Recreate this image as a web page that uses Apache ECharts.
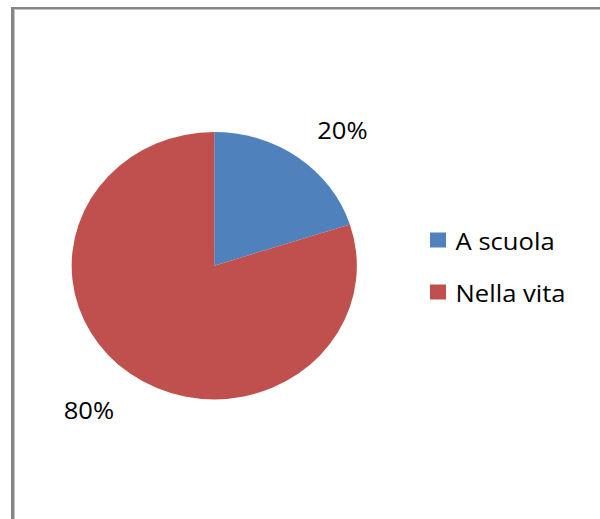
<!DOCTYPE html>
<html>
<head>
<meta charset="utf-8">
<script src="https://cdn.jsdelivr.net/npm/echarts@6/dist/echarts.min.js"></script>
<style>
  html, body { margin: 0; padding: 0; width: 600px; height: 519px; overflow: hidden; background: #fff; }
  #frame { position: absolute; left: 11px; top: 7px; width: 620px; height: 540px;
           border-left: 3px solid #868686; border-top: 2px solid #868686;
           box-shadow: inset 1px 1px 0 0 #c4c4c4; }
  #chart { position: absolute; left: 0; top: 0; width: 562.6px; height: 519px;
           transform: scaleX(1.0665); transform-origin: 0 0; }
</style>
</head>
<body>
<div id="frame"></div>
<div id="chart"></div>
<script>
const categories = ['A scuola', 'Nella vita'];
const values = [20, 80];
const colors = ['#4F81BD', '#C0504D'];
const labelLineLengths = [[34.5, -2.3], [44.2, -10.6]];

const chart = echarts.init(document.getElementById('chart'), null, { renderer: 'svg' });
const font = "'Open Sans', sans-serif";

const data = categories.map((name, i) => ({
  name: name,
  value: values[i],
  itemStyle: { color: colors[i] },
  labelLine: { show: false, length: labelLineLengths[i][0], length2: labelLineLengths[i][1] }
}));

chart.setOption({
  animation: false,
  legend: {
    orient: 'vertical',
    left: 403.2,
    top: 228,
    padding: 0,
    itemWidth: 15,
    itemHeight: 15,
    itemGap: 28,
    icon: 'rect',
    selectedMode: false,
    data: categories,
    textStyle: { fontFamily: font, fontSize: 24, color: '#000', lineHeight: 24, padding: [0, 0, 0, 4] }
  },
  series: [{
    type: 'pie',
    center: [200.9, 265.7],
    radius: 133.7,
    startAngle: 90,
    clockwise: true,
    avoidLabelOverlap: false,
    silent: true,
    itemStyle: { borderWidth: 0 },
    emphasis: { disabled: true },
    label: {
      show: true,
      position: 'outside',
      distanceToLabelLine: 0,
      formatter: p => p.value + '%',
      fontFamily: font,
      fontSize: 24,
      color: '#000'
    },
    data: data
  }]
});
</script>
</body>
</html>
